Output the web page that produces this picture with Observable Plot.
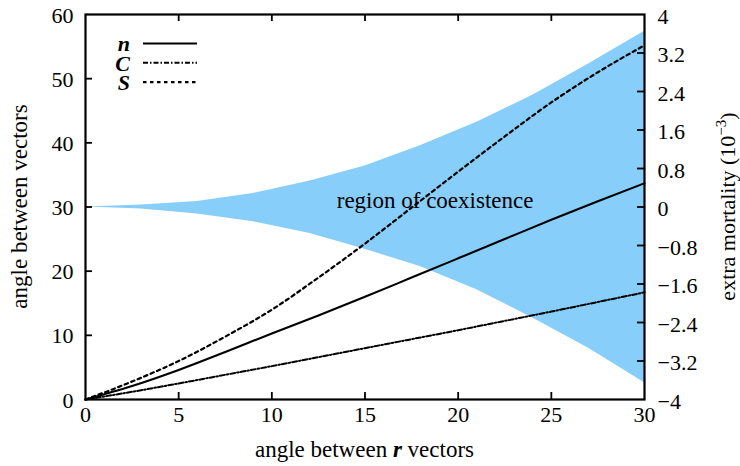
<!DOCTYPE html>
<html><head><meta charset="utf-8">
<script src="https://cdn.jsdelivr.net/npm/d3@7"></script>
<script src="https://cdn.jsdelivr.net/npm/@observablehq/plot@0.6"></script>
<style>body{margin:0;background:#fff} svg{display:block;overflow:visible}</style>
</head><body><div id="chart"></div>
<script>
// ---- data ----
const bandX     = [0, 3, 6, 9, 12, 15, 18, 21, 24, 27, 30];
const bandUpper = [30, 30.3, 30.85, 32.1, 34.0, 36.4, 39.6, 43.2, 47.4, 52.3, 57.4];
const bandLower = [30, 29.7, 28.9, 27.7, 25.9, 23.4, 20.7, 17.1, 12.7, 8.0, 2.6];

const lineX   = [0, 2.5, 5, 7.5, 10, 12.5, 15, 17.5, 20, 22.5, 25, 27.5, 30];
const nValues = [0, 2.1, 4.6, 7.4, 10.3, 13.1, 16.0, 19.0, 22.0, 25.0, 28.0, 30.9, 33.7];
const cValues = [0, 1.2, 2.5, 3.85, 5.2, 6.6, 8.0, 9.4, 10.8, 12.25, 13.7, 15.2, 16.7];
const sValues = [0, 2.8, 6.0, 9.8, 14.0, 19.0, 24.3, 29.9, 35.5, 41.0, 46.3, 51.0, 55.2];

const xTicks = [0, 5, 10, 15, 20, 25, 30];
const yTicks = [0, 10, 20, 30, 40, 50, 60];
const rightTicks = [-4, -3.2, -2.4, -1.6, -0.8, 0, 0.8, 1.6, 2.4, 3.2, 4];
const rightTickLabels = ["\u22124", "\u22123.2", "\u22122.4", "\u22121.6", "\u22120.8", "0", "0.8", "1.6", "2.4", "3.2", "4"];
const legendNames = ["n", "C", "S"];
const annotation = {x: 18.76, y: 31.0, text: "region of coexistence"};

// ---- layout ----
const W = 740, H = 466, mL = 85, mR = 96, mT = 14, mB = 67;
const plotW = W - mL - mR, plotH = H - mT - mB;
const yDomain = [0, 60], rDomain = [-4, 4];
const rightPos = rightTicks.map(v => (v - rDomain[0]) / (rDomain[1] - rDomain[0]) * (yDomain[1] - yDomain[0]) + yDomain[0]);
const rightLabelMap = new Map(rightPos.map((p, i) => [p, rightTickLabels[i]]));

const band = bandX.map((x, i) => ({x, lo: bandLower[i], hi: bandUpper[i]}));
const mk = vals => lineX.map((x, i) => ({x, y: vals[i]}));
const styles = {
  n: {strokeWidth: 2.1, strokeDasharray: null},
  C: {strokeWidth: 2, strokeDasharray: "5,2,1.5,2"},
  S: {strokeWidth: 2.2, strokeDasharray: "3.5,3.5"}
};
const series = {n: mk(nValues), C: mk(cValues), S: mk(sValues)};
const FONT = '"Liberation Serif", "Times New Roman", serif';
const TICK_FS = 22, TITLE_FS = 23;

const plot = Plot.plot({
  width: W, height: H, marginLeft: mL, marginRight: mR, marginTop: mT, marginBottom: mB,
  style: {fontFamily: FONT, fontSize: TICK_FS + "px", color: "#000", background: "#fff"},
  x: {domain: [0, 30]},
  y: {domain: yDomain},
  marks: [
    Plot.areaY(band, {x: "x", y1: "lo", y2: "hi", fill: "#87cefa", curve: "linear"}),
    ...legendNames.map(k => Plot.line(series[k], {x: "x", y: "y", curve: "monotone-x", stroke: "black", strokeWidth: styles[k].strokeWidth, strokeDasharray: styles[k].strokeDasharray})),
    Plot.text([annotation], {x: "x", y: "y", text: "text", fontSize: 23, fill: "black", fontFamily: FONT}),
    // inward tick marks
    Plot.ruleX(xTicks.slice(1, -1), {x: d => d, insetTop: plotH - 7, stroke: "black", strokeWidth: 1.8}),
    Plot.ruleX(xTicks.slice(1, -1), {x: d => d, insetBottom: plotH - 7, stroke: "black", strokeWidth: 1.8}),
    Plot.ruleY(yTicks.slice(1, -1), {y: d => d, insetRight: plotW - 7, stroke: "black", strokeWidth: 1.8}),
    Plot.ruleY(rightPos.slice(1, -1), {y: d => d, insetLeft: plotW - 7, stroke: "black", strokeWidth: 1.8}),
    Plot.axisX({ticks: xTicks, tickSize: 0, tickPadding: 7, label: null, fontSize: TICK_FS}),
    Plot.axisY({ticks: yTicks, tickSize: 0, tickPadding: 12, label: null, fontSize: TICK_FS, dy: 1}),
    Plot.axisY({anchor: "right", ticks: rightPos, tickFormat: d => rightLabelMap.get(d) ?? "", tickSize: 0, tickPadding: 13, label: null, fontSize: TICK_FS, dy: 2}),
    Plot.frame({stroke: "black", strokeWidth: 2.2})
  ]
});

const svg = d3.select(plot);

// axis titles
svg.append("text")
  .attr("transform", `translate(27,${(mT + H - mB) / 2}) rotate(-90)`)
  .attr("text-anchor", "middle").attr("font-family", FONT).attr("font-size", TITLE_FS).attr("fill", "black")
  .text("angle between vectors");

const bt = svg.append("text")
  .attr("x", (mL + W - mR) / 2).attr("y", 457)
  .attr("text-anchor", "middle").attr("font-family", FONT).attr("font-size", TITLE_FS).attr("fill", "black");
bt.append("tspan").text("angle between ");
bt.append("tspan").attr("font-weight", "bold").attr("font-style", "italic").text("r");
bt.append("tspan").text(" vectors");

const rt = svg.append("text")
  .attr("transform", `translate(735,${(mT + H - mB) / 2}) rotate(-90)`)
  .attr("text-anchor", "middle").attr("font-family", FONT).attr("font-size", TITLE_FS - 1).attr("fill", "black");
rt.append("tspan").text("extra mortality (10");
rt.append("tspan").attr("font-size", 15).attr("dy", -9).text("\u22123");
rt.append("tspan").attr("dy", 9).text(")");

// legend
const lg = svg.append("g").attr("transform", `translate(${mL},${mT})`);
legendNames.forEach((k, i) => {
  const y = 29.5 + i * 19.3;
  lg.append("text").attr("x", 45).attr("y", y).attr("dy", "0.35em")
    .attr("text-anchor", "end").attr("font-family", FONT).attr("font-size", 22)
    .attr("font-weight", "bold").attr("font-style", "italic").attr("fill", "black").text(k);
  lg.append("line").attr("x1", 58).attr("x2", 112).attr("y1", y).attr("y2", y)
    .attr("stroke", "black").attr("stroke-width", styles[k].strokeWidth)
    .attr("stroke-dasharray", styles[k].strokeDasharray);
});

document.getElementById("chart").appendChild(plot);
</script>
</body></html>
